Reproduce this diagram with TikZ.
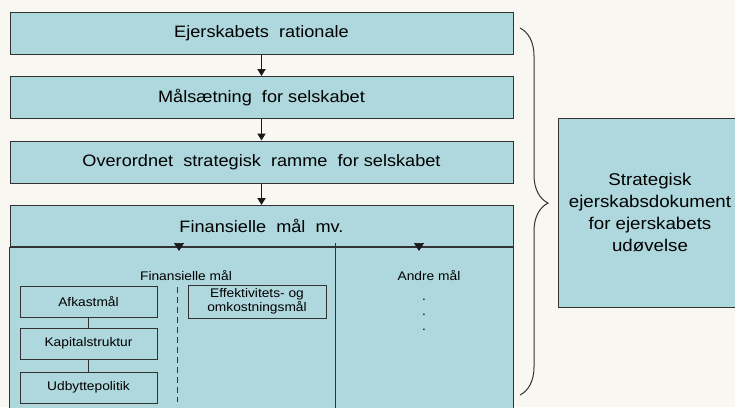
\documentclass[tikz,border=0pt]{standalone}
\usepackage{fontspec}
\setmainfont[FakeStretch=1.1]{Liberation Sans}
\usetikzlibrary{positioning}
\usetikzlibrary{arrows.meta}
\usetikzlibrary{decorations.pathreplacing}
\definecolor{boxblue}{RGB}{174,216,221}
\definecolor{paper}{RGB}{249,247,241}
\definecolor{edge}{RGB}{50,50,50}

\begin{document}
\begin{tikzpicture}[x=1pt,y=-1pt,node distance=21.5pt and 10pt,
		hdr/.style={draw=edge,line width=1pt,fill=boxblue,minimum width=503pt,minimum height=42pt,inner sep=0pt,font=\fontsize{16.5}{19}\selectfont},
		sub/.style={draw=edge,line width=1pt,minimum width=137pt,minimum height=31pt,inner sep=0pt,align=center,font=\fontsize{12.5}{14.5}\selectfont},
		lbl/.style={inner sep=0pt,font=\fontsize{12.5}{14}\selectfont},
		flow/.style={-{Triangle[width=8pt,length=7pt]},line width=1.8pt,draw=black!90},
		tip/.style={-{Triangle[width=10pt,length=8pt]},line width=0.6pt,draw=black!90}]
		\useasboundingbox (0,0) rectangle (735,407);
		\fill[paper] (0,0) rectangle (735,407);
		\clip (0,0) rectangle (735,407);

		\node [hdr] (rationale) at (261.5,33) {Ejerskabets\ \ rationale};
		\node [hdr,below=of rationale] (maal) {Målsætning\ \ for selskabet};
		\node [hdr,below=of maal] (ramme) {Overordnet\ \ strategisk\ \ ramme\ \ for selskabet};
		\node [hdr,below=of ramme,minimum height=41pt] (finans) {Finansielle\ \ mål\ \ mv.};
		\coordinate (bund) at (513,430);
		\draw [edge,line width=1pt,fill=boxblue] (finans.south west) rectangle (bund);
		\coordinate (skeltop) at (335,243);
		\coordinate (skelbund) at (335,430);
		\draw [edge,line width=1pt] (skeltop) -- (skelbund);

		\draw [flow] (rationale) -- (maal);
		\draw [flow] (maal) -- (ramme);
		\draw [flow] (ramme) -- (finans);

		\coordinate (finpil) at (179,243);
		\coordinate (finpilend) at (179,251);
		\coordinate (andpil) at (419,243);
		\coordinate (andpilend) at (419,251);
		\draw [tip] (finpil) -- (finpilend);
		\draw [tip] (andpil) -- (andpilend);

		\node [lbl] (finmaal) at (186,276) {Finansielle mål};
		\node [lbl] (andre) at (429,276) {Andre mål};
		\node [lbl] (prik1) at (424,300) {.};
		\node [lbl] (prik2) at (424,315) {.};
		\node [lbl] (prik3) at (424,330) {.};

		\node [sub] (afkast) at (88.5,301.5) {Afkastmål};
		\node [sub,below=10pt of afkast] (kapital) {Kapitalstruktur};
		\node [sub,below=12pt of kapital] (udbytte) {Udbyttepolitik};
		\draw [edge,line width=1.3pt] (afkast) -- (kapital);
		\draw [edge,line width=1.3pt] (kapital) -- (udbytte);

		\node [sub,minimum width=138pt,minimum height=33pt] (effekt) at (257,301.5) {Effektivitets- og\\omkostningsmål};
		\coordinate (stiptop) at (177,287);
		\coordinate (stipbund) at (177,402);
		\draw [edge,line width=1pt,dash pattern=on 6pt off 4pt] (stiptop) -- (stipbund);

		\coordinate (braceTop) at (520,28);
		\coordinate (braceBot) at (520,395);
		\draw [edge,line width=1pt,decorate,decoration={brace,amplitude=28pt,aspect=0.477}] (braceTop) -- (braceBot);

		\node [draw=edge,line width=1pt,fill=boxblue,minimum width=184pt,minimum height=189pt,align=center,font=\fontsize{17}{22}\selectfont] (dokument) at (650,212.5) {Strategisk\\ejerskabsdokument\\for ejerskabets\\udøvelse};
	\end{tikzpicture}
\end{document}
